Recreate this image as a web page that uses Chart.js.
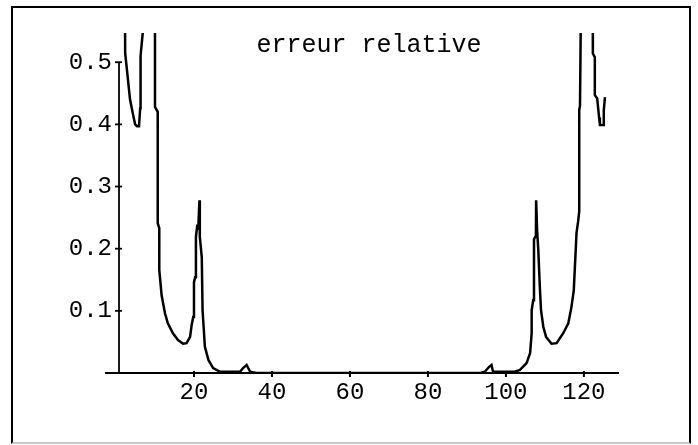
<!DOCTYPE html>
<html>
<head>
<meta charset="utf-8">
<script src="https://cdn.jsdelivr.net/npm/chart.js@4/dist/chart.umd.min.js"></script>
<style>
html,body{margin:0;padding:0;background:#fff;}
#wrap{position:relative;width:698px;height:445px;overflow:hidden;}
#frame{position:absolute;left:11px;top:6px;width:680px;height:438px;box-sizing:border-box;border:2px solid #000;border-bottom-color:#c8c8c8;pointer-events:none;}
canvas{position:absolute;left:0;top:0;}
</style>
</head>
<body>
<div id="wrap">
<canvas id="c" width="698" height="445"></canvas>
<div id="frame"></div>
</div>
<script>
// ---- data ----
const titleText = 'erreur relative';
const xTicks = [20, 40, 60, 80, 100, 120];
const yTicks = [0.1, 0.2, 0.3, 0.4, 0.5];
const yTickLabels = ['0.1', '0.2', '0.3', '0.4', '0.5'];

const xValues = [
  2.25, 2.35, 3.1, 3.6, 4.4, 4.9, 5.4, 5.9, 6.2, 6.3, 6.9, 7.0,
  10.0, 10.0, 10.7, 10.7, 11.1, 11.1, 11.7, 12.56, 13.3, 14.6, 15.9, 17.2, 18.1,
  19.0, 19.4, 19.8, 20.0, 20.3, 20.5, 20.8, 21.1, 21.4, 21.5, 22.0, 22.2, 22.8,
  23.7, 24.9, 26.7, 31.8, 32.6, 33.5, 34.4, 36.0,
  93.5, 94.6, 95.7, 96.3, 96.7, 102.3, 103.6, 105.3, 106.2, 106.6, 106.6, 107.0,
  107.2, 107.5, 107.7, 107.75, 108.0, 108.3, 108.7, 109.0, 109.6, 110.3, 111.7,
  113.0, 114.7, 116.0, 116.8, 117.4, 117.9, 118.1, 118.5, 118.8, 118.8, 119.0,
  119.4, 122.2, 122.3, 122.8, 122.8, 123.4, 123.9, 124.1, 124.9, 125.1, 125.4
];
const yValues = [
  0.70, 0.515, 0.47, 0.44, 0.415, 0.40, 0.397, 0.397, 0.426, 0.51, 0.55, 0.70,
  0.70, 0.428, 0.42, 0.241, 0.233, 0.166, 0.125, 0.096, 0.080, 0.064, 0.053, 0.047, 0.048,
  0.058, 0.077, 0.090, 0.146, 0.154, 0.219, 0.235, 0.233, 0.278, 0.219, 0.186, 0.101, 0.042,
  0.021, 0.008, 0.002, 0.002, 0.008, 0.013, 0.002, 0.0,
  0.0, 0.002, 0.010, 0.013, 0.002, 0.002, 0.005, 0.016, 0.032, 0.064, 0.101, 0.117,
  0.215, 0.219, 0.235, 0.278, 0.230, 0.198, 0.138, 0.101, 0.074, 0.058, 0.047,
  0.048, 0.064, 0.080, 0.106, 0.133, 0.198, 0.225, 0.243, 0.26, 0.423, 0.43,
  0.70, 0.70, 0.514, 0.508, 0.447, 0.442, 0.411, 0.399, 0.399, 0.423, 0.444
];

const points = xValues.map((x, i) => ({x: x, y: yValues[i]}));

const X_MIN = 0.77, X_MAX = 129, X_AXIS_FROM = -2.8;
const Y_MIN = 0, Y_MAX = 0.547;

const crossAxes = {
  id: 'crossAxes',
  afterDatasetsDraw(chart) {
    const {ctx, scales: {x, y}} = chart;
    const y0 = y.getPixelForValue(0);
    const xa = x.getPixelForValue(X_MIN);
    ctx.save();
    ctx.strokeStyle = '#000';
    ctx.lineWidth = 2;
    ctx.beginPath();
    ctx.moveTo(x.getPixelForValue(X_AXIS_FROM), y0);
    ctx.lineTo(x.getPixelForValue(X_MAX), y0);
    ctx.stroke();
    ctx.lineWidth = 1.8;
    ctx.beginPath();
    ctx.moveTo(xa, y0);
    ctx.lineTo(xa, y.getPixelForValue(yTicks[yTicks.length - 1]));
    ctx.stroke();
    ctx.lineWidth = 2;
    xTicks.forEach(v => {
      const px = x.getPixelForValue(v);
      ctx.beginPath(); ctx.moveTo(px, y0 - 2); ctx.lineTo(px, y0 + 4); ctx.stroke();
    });
    ctx.lineWidth = 1.8;
    yTicks.forEach(v => {
      const py = y.getPixelForValue(v);
      ctx.beginPath(); ctx.moveTo(xa - 4, py); ctx.lineTo(xa + 3, py); ctx.stroke();
    });
    ctx.restore();
  }
};

Chart.defaults.color = '#000';
Chart.defaults.font.family = "'Liberation Mono', 'DejaVu Sans Mono', monospace";

new Chart(document.getElementById('c'), {
  type: 'line',
  data: {
    datasets: [{
      label: titleText,
      data: points,
      borderColor: '#000',
      borderWidth: 2.5,
      pointRadius: 0,
      tension: 0,
      fill: false,
      clip: 0
    }]
  },
  options: {
    responsive: false,
    animation: false,
    events: [],
    layout: {padding: {left: 59, right: 79, top: 0, bottom: 22}},
    plugins: {
      legend: {display: false},
      tooltip: {enabled: false},
      title: {
        display: true,
        text: titleText,
        fullSize: false,
        color: '#000',
        font: {family: "'Liberation Mono', monospace", size: 25, weight: 'normal', lineHeight: 1.2},
        padding: {top: 30, bottom: -27}
      }
    },
    scales: {
      x: {
        type: 'linear',
        min: X_MIN,
        max: X_MAX,
        grid: {display: false, drawTicks: false, tickLength: 0},
        border: {display: false},
        afterBuildTicks: s => { s.ticks = xTicks.map(v => ({value: v})); },
        afterFit: s => { s.height = 50; },
        ticks: {
          autoSkip: false, maxRotation: 0, padding: 5,
          font: {size: 24},
          callback: v => String(v)
        }
      },
      y: {
        type: 'linear',
        min: Y_MIN,
        max: Y_MAX,
        grid: {display: false, drawTicks: false, tickLength: 0},
        border: {display: false},
        afterBuildTicks: s => { s.ticks = yTicks.map(v => ({value: v})); },
        afterFit: s => { s.width = 60; },
        ticks: {
          autoSkip: false, padding: 7,
          font: {size: 24},
          callback: (v) => { const i = yTicks.indexOf(v); return i >= 0 ? yTickLabels[i] : ''; }
        }
      }
    }
  },
  plugins: [crossAxes]
});
</script>
</body>
</html>
